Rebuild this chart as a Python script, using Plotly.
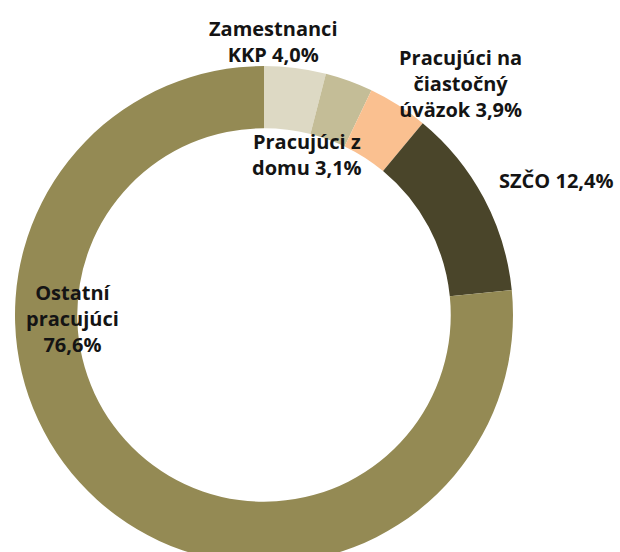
import plotly.graph_objects as go

W, H = 620, 570  # a little taller than the window: the ring is cut at the bottom as in the reference

categories = ["Zamestnanci KKP", "Pracujúci z domu", "Pracujúci na čiastočný úväzok", "SZČO", "Ostatní pracujúci"]
values = [4.0, 3.1, 3.9, 12.4, 76.6]
label_texts = [
    "Zamestnanci<br>KKP 4,0%",
    "Pracujúci z<br>domu 3,1%",
    "Pracujúci na<br>čiastočný<br>úväzok 3,9%",
    "SZČO 12,4%",
    "Ostatní<br>pracujúci<br>76,6%",
]
colors = ["#DDD9C4", "#C4BD97", "#FAC090", "#4A452A", "#948A54"]
# label centres in pixels (x, y from top)
label_pos = [(273, 41), (307, 155), (460, 83), (556, 180), (72, 318)]

CX, CY, R = 264, 315, 249

fig = go.Figure(go.Pie(
    labels=categories,
    values=values,
    sort=False,
    direction="clockwise",
    rotation=0,
    hole=0.75,
    marker=dict(colors=colors, line=dict(width=0)),
    textinfo="none",
    hoverinfo="label+percent",
    showlegend=False,
    domain=dict(x=[(CX - R) / W, (CX + R) / W], y=[1 - (CY + R) / H, 1 - (CY - R) / H]),
))

for txt, (px, py) in zip(label_texts, label_pos):
    fig.add_annotation(
        x=px / W, y=1 - py / H, xref="paper", yref="paper",
        text=txt, showarrow=False, xanchor="center", yanchor="middle",
        align="center",
        font=dict(family="Open Sans", size=20, color="#141414", weight="bold"),
    )

fig.update_layout(
    width=W, height=H,
    margin=dict(l=0, r=0, t=0, b=0),
    paper_bgcolor="white",
    plot_bgcolor="white",
)

fig.write_html(
    "out.html",
    config={"displayModeBar": False},
    post_script="document.body.style.margin='0';document.body.style.overflow='hidden';"
                "document.documentElement.style.overflow='hidden';",
)
